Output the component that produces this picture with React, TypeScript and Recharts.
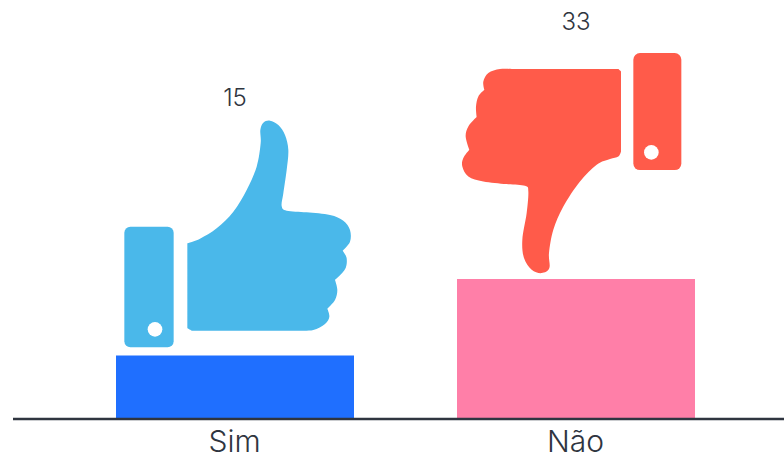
import { BarChart, Bar, XAxis, YAxis, Cell, LabelList, Rectangle } from 'recharts';

const categories = ['Sim', 'Não'];
const respostas = [15, 33];
const barColors = ['#1f6fff', '#ff7fa8'];

const data = categories.map((name, i) => ({ name, value: respostas[i] }));

// icon outlines, in thirds of a pixel (a repeated point is a corner)
const thumbUp: number[][] = [
  [262, 490], [262, 490], [300, 476], [350, 445], [400, 395], [440, 330], [470, 260], [482, 190], [481, 150], [490, 128],
  [510, 122], [535, 135], [555, 165], [565, 210], [560, 270], [550, 340], [545, 378], [560, 392], [620, 397], [690, 405],
  [730, 422], [750, 450], [750, 485], [728, 512], [728, 512], [740, 535], [735, 568], [705, 600], [705, 600], [712, 630],
  [705, 660], [682, 686], [682, 686], [688, 710], [675, 732], [640, 750], [600, 752], [600, 752], [275, 752], [275, 752], [262, 745], [262, 745],
];
const thumbDown: number[][] = [
  [505, 208], [505, 208], [513, 215], [513, 215], [513, 455], [513, 455], [505, 470], [480, 478], [440, 495], [390, 545],
  [340, 620], [310, 690], [297, 760], [298, 805], [275, 820], [245, 810], [222, 775], [217, 720], [230, 640], [235, 575],
  [225, 558], [170, 553], [100, 545], [55, 530], [37, 500], [40, 475], [58, 450], [58, 450], [47, 410], [55, 380], [80, 352],
  [80, 352], [78, 320], [85, 290], [103, 270], [103, 270], [100, 245], [115, 220], [150, 208], [190, 208], [190, 208],
];

// catmull-rom through the outline
const smooth = (pts: number[][]) => {
  const n = pts.length;
  const at = (i: number) => pts[(i + n) % n];
  const same = (a: number[], b: number[]) => a[0] === b[0] && a[1] === b[1];
  let d = `M${pts[0][0]} ${pts[0][1]}`;
  pts.forEach((p, i) => {
    const a = at(i - 1);
    const b = at(i + 1);
    const c = at(i + 2);
    if (same(p, b)) return;
    const c1 = same(a, p) ? p : [p[0] + (b[0] - a[0]) / 6, p[1] + (b[1] - a[1]) / 6];
    const c2 = same(b, c) ? b : [b[0] - (c[0] - p[0]) / 6, b[1] - (c[1] - p[1]) / 6];
    d += `C${c1[0]} ${c1[1]} ${c2[0]} ${c2[1]} ${b[0]} ${b[1]}`;
  });
  return d + 'Z';
};

// bar plus the thumb standing on it
const ThumbBar = (props: any) => {
  const { x, y, width, height, fill, index } = props;
  const up = index === 0;
  const color = up ? '#4ab8ea' : '#ff5b4a';
  const dx = up ? -16 : -7;
  const dy = up ? -275.4 : -279.3;
  return (
    <g>
      <Rectangle x={x} y={y} width={width} height={height} fill={fill} />
      <g transform={`translate(${x + dx} ${y + dy}) scale(${1 / 3})`}>
        <path d={smooth(up ? thumbUp : thumbDown)} fill={color} />
        {up ? (
          <>
            <rect x={73} y={440} width={148} height={362} rx={18} fill={color} />
            <circle cx={165} cy={748} r={22} fill="#fff" />
          </>
        ) : (
          <>
            <rect x={550} y={160} width={144} height={351} rx={20} fill={color} />
            <circle cx={604} cy={458} r={22} fill="#fff" />
          </>
        )}
      </g>
    </g>
  );
};

export default function App() {
  return (
    <div style={{ position: 'absolute', left: 0, top: 0, width: 784, height: 455, background: '#fff' }}>
      <BarChart
        width={784}
        height={455}
        data={data}
        margin={{ top: 0, right: 0, bottom: 0, left: 13 }}
      >
        <YAxis hide domain={[0, 98.8]} />
        <XAxis
          dataKey="name"
          height={36}
          padding={{ left: 51, right: 38 }}
          axisLine={{ stroke: '#2f3540', strokeWidth: 2.5 }}
          tickLine={false}
          tickMargin={6}
          tick={{ fill: '#2f3540', fontSize: 30, fontWeight: 300, fontFamily: 'Inter' }}
        />
        <Bar dataKey="value" barSize={238} shape={ThumbBar} isAnimationActive={false}>
          {data.map((d, i) => (
            <Cell key={d.name} fill={barColors[i]} />
          ))}
          <LabelList
            dataKey="value"
            position="top"
            offset={249}
            fill="#2f3540"
            fontSize={24}
            fontWeight={300}
            fontFamily="Inter"
          />
        </Bar>
      </BarChart>
    </div>
  );
}
